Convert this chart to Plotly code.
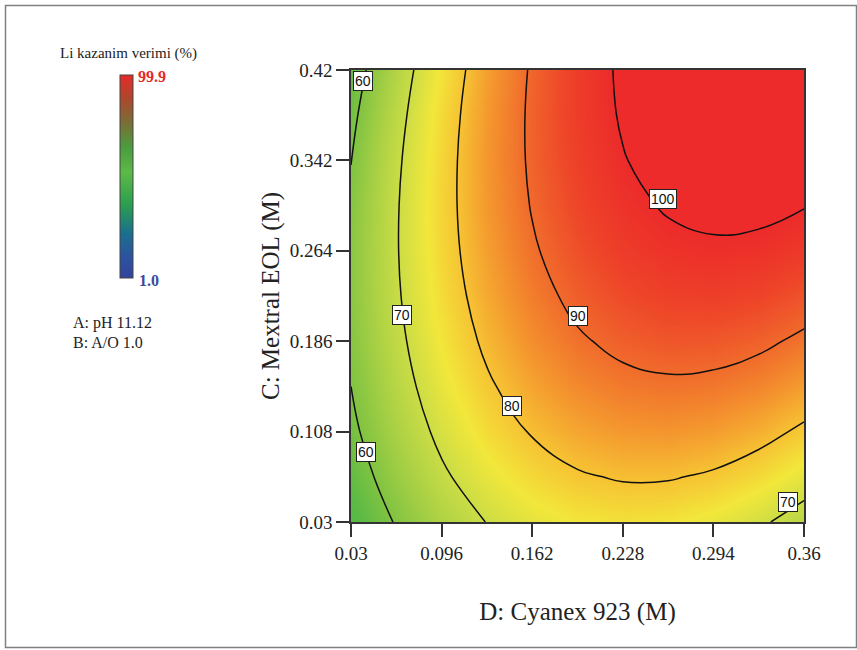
import plotly.graph_objects as go

# Factor grid (M) and predicted Li recovery (%) at each node
cyanex = [0.03, 0.063, 0.096, 0.129, 0.162, 0.195, 0.228, 0.261, 0.294, 0.327, 0.36]
mextral = [0.03, 0.069, 0.108, 0.147, 0.186, 0.225, 0.264, 0.303, 0.342, 0.381, 0.42]

# rows follow mextral (bottom to top), columns follow cyanex (left to right)
recovery = [
    [54.50, 60.44, 65.88, 70.15, 73.24, 75.16, 75.90, 75.46, 73.85, 71.06, 67.10],
    [56.80, 63.13, 68.95, 73.60, 77.08, 79.38, 80.50, 80.44, 79.22, 76.81, 73.23],
    [58.70, 65.35, 71.56, 76.59, 80.45, 83.13, 84.63, 84.96, 84.11, 82.09, 78.89],
    [60.00, 67.11, 73.70, 79.11, 83.35, 86.42, 88.30, 89.01, 88.55, 86.91, 84.09],
    [60.95, 68.40, 75.38, 81.17, 85.79, 89.24, 91.51, 92.60, 92.52, 91.26, 88.83],
    [61.40, 69.23, 76.59, 82.77, 87.77, 91.60, 94.25, 95.73, 96.03, 95.15, 93.10],
    [61.40, 69.60, 77.34, 83.90, 89.29, 93.50, 96.53, 98.39, 99.07, 98.58, 96.91],
    [60.90, 69.50, 77.62, 84.57, 90.34, 94.93, 98.34, 100.59, 101.65, 101.54, 100.25],
    [59.90, 68.94, 77.44, 84.77, 90.92, 95.90, 99.70, 102.32, 103.77, 104.04, 103.13],
    [58.60, 67.91, 76.80, 84.51, 91.04, 96.40, 100.58, 103.59, 105.42, 106.07, 105.55],
    [56.80, 66.42, 75.69, 83.78, 90.70, 96.44, 101.00, 104.39, 106.60, 107.64, 107.50],
]

x_ticks = [0.03, 0.096, 0.162, 0.228, 0.294, 0.36]
x_tick_text = ["0.03", "0.096", "0.162", "0.228", "0.294", "0.36"]
y_ticks = [0.03, 0.108, 0.186, 0.264, 0.342, 0.42]
y_tick_text = ["0.03", "0.108", "0.186", "0.264", "0.342", "0.42"]

contour_levels = [60, 70, 80, 90, 100]
z_low, z_high = 1.0, 99.9

# where each contour label box sits (cyanex, mextral, level)
label_spots = [
    (0.0388, 0.4107, 60),
    (0.0408, 0.0908, 60),
    (0.0669, 0.2082, 70),
    (0.3480, 0.0471, 70),
    (0.1474, 0.1299, 80),
    (0.1951, 0.2076, 90),
    (0.2573, 0.3083, 100),
]

SERIF = "Liberation Serif, Times New Roman, serif"
SANS = "Liberation Sans, Arial, sans-serif"

W, H = 857, 650
L, R, T, B = 351, 53, 70, 128
PW, PH = W - L - R, H - T - B


def px_x(px):
    return (px - L) / PW


def px_y(py):
    return (H - B - py) / PH


fill_scale = [
    [0.000, "#3a4ea0"],
    [0.243, "#2a9a9a"],
    [0.496, "#3fb54a"],
    [0.556, "#5cba44"],
    [0.597, "#80c342"],
    [0.647, "#a8d044"],
    [0.698, "#ccdd45"],
    [0.748, "#f2e73a"],
    [0.799, "#f6c233"],
    [0.849, "#f4952e"],
    [0.900, "#f06a2b"],
    [0.950, "#ee4429"],
    [1.000, "#ec2b2a"],
]

legend_scale = [
    [0.00, "#34449a"],
    [0.10, "#2c52a0"],
    [0.22, "#1b6f8e"],
    [0.36, "#2a9e50"],
    [0.52, "#5cba46"],
    [0.64, "#4a9d3e"],
    [0.77, "#7c6c35"],
    [0.89, "#b0462c"],
    [1.00, "#e52a2a"],
]

fig = go.Figure()

fig.add_trace(go.Heatmap(
    x=cyanex, y=mextral, z=recovery,
    zsmooth="best", zmin=z_low, zmax=z_high,
    colorscale=fill_scale, showscale=False, hoverinfo="skip",
))

fig.add_trace(go.Contour(
    x=cyanex, y=mextral, z=recovery,
    autocontour=False,
    contours=dict(start=contour_levels[0], end=contour_levels[-1],
                  size=contour_levels[1] - contour_levels[0],
                  coloring="none", showlabels=False),
    line=dict(color="#111111", width=1.5, smoothing=1.3),
    showscale=False, hoverinfo="skip",
))

# colour key for the response
fig.add_trace(go.Scatter(
    x=[None, None], y=[None, None], mode="markers",
    marker=dict(
        color=[z_low, z_high], cmin=z_low, cmax=z_high,
        colorscale=legend_scale, showscale=True, opacity=0,
        colorbar=dict(
            x=px_x(120), xanchor="left", y=px_y(176.5), yanchor="middle",
            thickness=13, thicknessmode="pixels", len=203, lenmode="pixels",
            outlinewidth=1, outlinecolor="#444444",
            showticklabels=False, ticks="", xpad=0, ypad=0,
        ),
    ),
    showlegend=False, hoverinfo="skip",
))

annotations = []
for cx, cy, lvl in label_spots:
    annotations.append(dict(
        x=cx, y=cy, xref="x", yref="y", text=str(lvl), showarrow=False,
        xanchor="center", yanchor="middle",
        font=dict(family=SANS, size=14, color="#111111"),
        bgcolor="white", bordercolor="#222222", borderwidth=1, borderpad=1,
    ))

annotations += [
    dict(x=px_x(128.5), y=px_y(53), xref="paper", yref="paper",
         xanchor="center", yanchor="middle",
         text="Li kazanim verimi (%)", showarrow=False,
         font=dict(family=SERIF, size=15, color="#222222")),
    dict(x=px_x(136), y=px_y(77), xref="paper", yref="paper",
         xanchor="left", yanchor="middle",
         text=f"<b>{z_high:.1f}</b>", showarrow=False,
         font=dict(family=SERIF, size=16, color="#e8262b")),
    dict(x=px_x(137), y=px_y(280), xref="paper", yref="paper",
         xanchor="left", yanchor="middle",
         text=f"<b>{z_low:.1f}</b>", showarrow=False,
         font=dict(family=SERIF, size=16, color="#3b4a9e")),
    dict(x=px_x(71), y=px_y(323), xref="paper", yref="paper",
         xanchor="left", yanchor="middle",
         text="A: pH 11.12", showarrow=False,
         font=dict(family=SERIF, size=16, color="#222222")),
    dict(x=px_x(71), y=px_y(342), xref="paper", yref="paper",
         xanchor="left", yanchor="middle",
         text="B: A/O 1.0", showarrow=False,
         font=dict(family=SERIF, size=16, color="#222222")),
]

axis_common = dict(
    ticks="outside", ticklen=13, tickwidth=1.5, tickcolor="#333333",
    showline=True, linecolor="#333333", linewidth=1.5, mirror=True,
    showgrid=False, zeroline=False, automargin=False,
    tickfont=dict(family=SERIF, size=19, color="#222222"),
)

fig.update_layout(
    width=W, height=H,
    margin=dict(l=L, r=R, t=T, b=B, autoexpand=False),
    paper_bgcolor="white", plot_bgcolor="white",
    xaxis=dict(range=[0.03, 0.36], tickvals=x_ticks, ticktext=x_tick_text,
               title=dict(text="D: Cyanex 923 (M)", standoff=40,
                          font=dict(family=SERIF, size=25, color="#222222")),
               **axis_common),
    yaxis=dict(range=[0.03, 0.42], tickvals=y_ticks, ticktext=y_tick_text,
               title=dict(text="C: Mextral EOL (M)", standoff=3,
                          font=dict(family=SERIF, size=25, color="#222222")),
               **axis_common),
    annotations=annotations,
    shapes=[dict(type="rect", xref="paper", yref="paper",
                 x0=px_x(5.5), x1=px_x(856.5), y0=px_y(647.5), y1=px_y(5.5),
                 line=dict(color="#808080", width=1.5), layer="below")],
    showlegend=False,
)

fig.write_html("out.html")
